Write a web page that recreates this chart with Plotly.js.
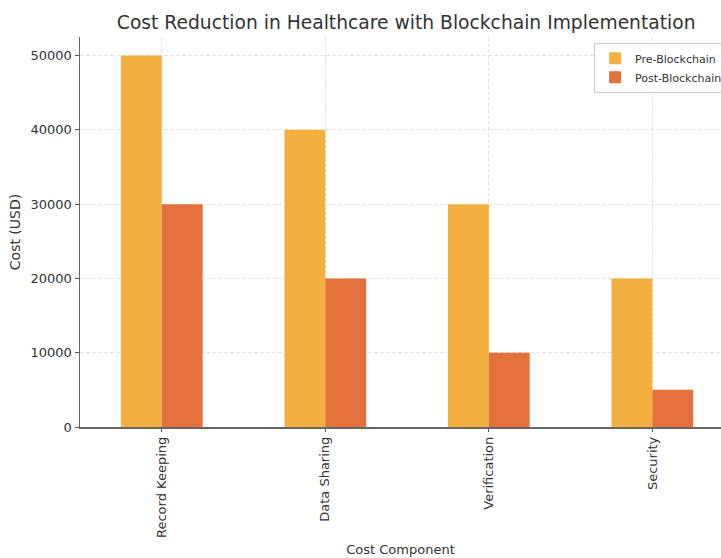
<!DOCTYPE html>
<html>
<head>
<meta charset="utf-8">
<script src="https://cdn.plot.ly/plotly-3.0.1.min.js"></script>
<style>html,body{margin:0;padding:0;background:#fff;}#chart{width:721px;height:558px;}</style>
</head>
<body>
<div id="chart"></div>
<script>
const categories = ["Record Keeping", "Data Sharing", "Verification", "Security"];
const preBlockchain = [50000, 40000, 30000, 20000];
const postBlockchain = [30000, 20000, 10000, 5000];
const yTicks = [0, 10000, 20000, 30000, 40000, 50000];

const font = "DejaVu Sans, sans-serif";
const traces = [
  {type: "bar", name: "Pre-Blockchain", x: categories.map((c, i) => i), y: preBlockchain,
   marker: {color: "#F4B03F", line: {width: 0}}},
  {type: "bar", name: "Post-Blockchain", x: categories.map((c, i) => i), y: postBlockchain,
   marker: {color: "#E4713B", line: {width: 0}}}
];
const layout = {
  width: 721, height: 558,
  margin: {l: 80, r: 0, t: 37, b: 131, autoexpand: false},
  paper_bgcolor: "#fff", plot_bgcolor: "#fff",
  font: {family: font, color: "#333", size: 13},
  title: {text: "Cost Reduction in Healthcare with Blockchain Implementation",
    font: {family: font, size: 18.7, color: "#333"}, x: 0.5634, xanchor: "center", y: 0.96, yanchor: "middle"},
  barmode: "group", bargap: 0.5, bargroupgap: 0,
  xaxis: {
    range: [-0.5, 3.42], tickmode: "array", tickvals: categories.map((c, i) => i), ticktext: categories,
    tickangle: -90, ticks: "outside", ticklen: 3, tickcolor: "#555", tickwidth: 1,
    showline: true, linecolor: "#666", linewidth: 1.5,
    showgrid: true, gridcolor: "#dcdcdc", griddash: "4px,2px", gridwidth: 0.8, zeroline: false,
    tickfont: {family: font, size: 13, color: "#333"},
    title: {text: "Cost Component", font: {family: font, size: 13, color: "#333"}, standoff: 8}
  },
  yaxis: {
    range: [0, 52500], tickmode: "array", tickvals: yTicks, ticktext: yTicks.map(String),
    ticks: "outside", ticklen: 4, tickcolor: "#555", tickwidth: 1,
    showline: true, linecolor: "#666", linewidth: 1.5,
    showgrid: true, gridcolor: "#dcdcdc", griddash: "4px,2px", gridwidth: 0.8, zeroline: false,
    tickfont: {family: font, size: 13, color: "#333"},
    title: {text: "Cost (USD)", font: {family: font, size: 14, color: "#333"}, standoff: 6}
  },
  legend: {x: 0.802, y: 0.985, xanchor: "left", yanchor: "top",
    bgcolor: "rgba(255,255,255,0.8)", bordercolor: "#ccc", borderwidth: 1,
    font: {family: font, size: 11, color: "#333"}, itemwidth: 30, tracegroupgap: 0},
  showlegend: true
};
Plotly.newPlot("chart", traces, layout, {displayModeBar: false, staticPlot: true});
</script>
</body>
</html>
